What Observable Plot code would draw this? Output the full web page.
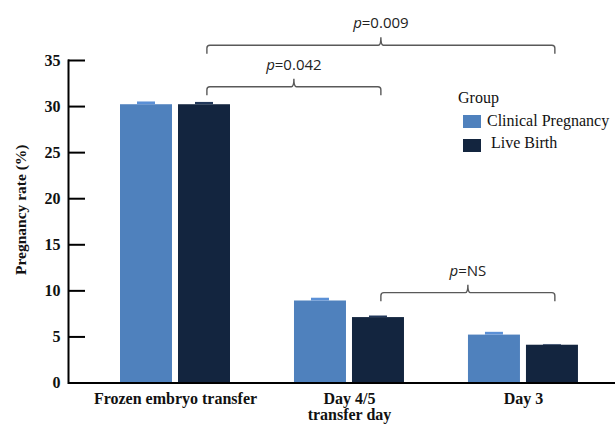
<!DOCTYPE html>
<html><head><meta charset="utf-8">
<script src="https://cdn.jsdelivr.net/npm/d3@7"></script>
<script src="https://cdn.jsdelivr.net/npm/@observablehq/plot@0.6"></script>
<style>
body{margin:0;background:#fff;}
#wrap{position:relative;width:615px;height:424px;overflow:hidden;}
.leg{position:absolute;font-family:"Liberation Serif",serif;font-size:16px;line-height:16px;color:#111;white-space:nowrap;}
.sw{position:absolute;width:18px;height:13px;}
</style></head><body><div id="wrap"></div>
<script>
// ---- data ----
const categories = ["Frozen embryo transfer", "Day 4/5", "Day 3"];
const groups = ["Clinical Pregnancy", "Live Birth"];
const clinicalPregnancy = [30.2, 8.9, 5.2];
const liveBirth = [30.2, 7.1, 4.1];
const clinicalPregnancyErr = [0.3, 0.3, 0.3];
const liveBirthErr = [0.25, 0.17, 0.08];
const yTicks = [0, 5, 10, 15, 20, 25, 30, 35];
const yLabel = "Pregnancy rate (%)";
const xLabel = "transfer day";
const legendTitle = "Group";
const comparisons = [
  {from: "Frozen embryo transfer", to: "Day 3", label: "0.009", level: 36.6},
  {from: "Frozen embryo transfer", to: "Day 4/5", label: "0.042", level: 32.1},
  {from: "Day 4/5", to: "Day 3", label: "NS", level: 9.75}
];
const colors = ["#4f81bd", "#13253f"];
const capColors = ["#5b90d6", "#22385a"];

const cpRows = categories.map((c, i) => ({category: c, group: groups[0], value: clinicalPregnancy[i], err: clinicalPregnancyErr[i]}));
const lbRows = categories.map((c, i) => ({category: c, group: groups[1], value: liveBirth[i], err: liveBirthErr[i]}));

const serif = "Liberation Serif, Times New Roman, serif";

const plot = Plot.plot({
  width: 615, height: 424,
  marginLeft: 68, marginRight: 0, marginTop: 60, marginBottom: 41.5,
  x: {type: "band", domain: categories, paddingInner: 0.3678, paddingOuter: 0.2559, align: 0.584, round: false, axis: null},
  y: {domain: [0, 35], axis: null},
  style: {background: "white", overflow: "visible", fontFamily: serif},
  marks: [
    Plot.barY(cpRows, {x: "category", y: "value", fill: colors[0], insetRight: 58}),
    Plot.barY(lbRows, {x: "category", y: "value", fill: colors[1], insetLeft: 58}),
    Plot.barY(cpRows, {x: "category", y1: "value", y2: d => d.value + d.err, fill: capColors[0], insetLeft: 17, insetRight: 75}),
    Plot.barY(lbRows, {x: "category", y1: "value", y2: d => d.value + d.err, fill: capColors[1], insetLeft: 75, insetRight: 17}),
    Plot.ruleY([0], {stroke: "#000", strokeWidth: 2}),
    Plot.frame({anchor: "left", stroke: "#000", strokeWidth: 2}),
    Plot.axisY({ticks: yTicks, tickSize: 17, dx: 17, text: null, stroke: "#000", strokeWidth: 2, label: null}),
    Plot.axisY({ticks: yTicks, tickSize: 0, tickPadding: 8, fontSize: 16, fontWeight: "bold", fontFamily: serif, fill: "#111", label: null}),
    Plot.text(categories, {x: d => d, frameAnchor: "bottom", lineAnchor: "top", dy: 10, fontSize: 16, fontWeight: "bold", fontFamily: serif, fill: "#111"}),
    Plot.text([xLabel], {x: () => categories[1], frameAnchor: "bottom", lineAnchor: "top", dy: 26, fontSize: 16, fontWeight: "bold", fontFamily: serif, fill: "#111"}),
    Plot.text([yLabel], {frameAnchor: "left", textAnchor: "middle", rotate: -90, dx: -47, dy: -12, fontSize: 15.5, fontWeight: "bold", fontFamily: serif, fill: "#111"})
  ]
});

document.getElementById("wrap").appendChild(plot);

// ---- comparison braces, positioned with the plot's own scales ----
const sx = plot.scale("x"), sy = plot.scale("y");
const endX = c => sx.apply(c) + sx.bandwidth * 0.79;
const g = d3.select(plot).append("g").attr("class", "braces");
for (const cmp of comparisons) {
  const x1 = endX(cmp.from), x2 = endX(cmp.to), y = sy.apply(cmp.level);
  const xm = (x1 + x2) / 2, d = 8.5, c = 8, r = 3;
  const p = d3.path();
  p.moveTo(x1, y + d);
  p.lineTo(x1, y + r);
  p.quadraticCurveTo(x1, y, x1 + r, y);
  p.lineTo(xm - 2.5, y);
  p.quadraticCurveTo(xm, y, xm, y - c);
  p.quadraticCurveTo(xm, y, xm + 2.5, y);
  p.lineTo(x2 - r, y);
  p.quadraticCurveTo(x2, y, x2, y + r);
  p.lineTo(x2, y + d);
  g.append("path").attr("d", p.toString()).attr("fill", "none").attr("stroke", "#595959").attr("stroke-width", 1.4);
  const t = g.append("text").attr("x", xm).attr("y", y - 17).attr("text-anchor", "middle")
    .attr("font-family", "Open Sans, sans-serif").attr("font-size", 15).attr("fill", "#222");
  t.append("tspan").attr("font-style", "italic").text("p");
  t.append("tspan").text("=" + cmp.label);
}

// ---- legend ----
const wrap = document.getElementById("wrap");
function addDiv(cls, style, text) {
  const el = document.createElement("div");
  el.className = cls;
  Object.assign(el.style, style);
  if (text) el.textContent = text;
  wrap.appendChild(el);
}
addDiv("leg", {left: "458px", top: "89.5px"}, legendTitle);
addDiv("sw", {left: "463px", top: "115px", background: colors[0]});
addDiv("leg", {left: "487px", top: "112.5px"}, groups[0]);
addDiv("sw", {left: "463px", top: "139px", background: colors[1]});
addDiv("leg", {left: "491px", top: "134.5px"}, groups[1]);
</script></body></html>
